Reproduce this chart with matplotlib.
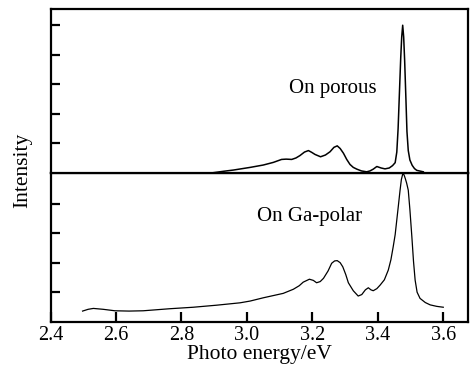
import matplotlib
matplotlib.use("Agg")
import matplotlib.pyplot as plt

plt.rcParams['font.family'] = ['Liberation Serif', 'DejaVu Serif']

# Top spectrum: "On porous"
porous_x = [2.897, 2.930, 2.959, 3.010, 3.050, 3.081, 3.106, 3.120, 3.137, 3.150,
            3.162, 3.176, 3.188, 3.198, 3.208, 3.225, 3.240, 3.254, 3.266, 3.276,
            3.285, 3.295, 3.305, 3.315, 3.325, 3.336, 3.350, 3.366, 3.376, 3.386,
            3.397, 3.410, 3.422, 3.435, 3.445, 3.453, 3.458, 3.462, 3.466, 3.470,
            3.473, 3.476, 3.479, 3.482, 3.486, 3.489, 3.493, 3.498, 3.505, 3.512,
            3.519, 3.539]
porous_y = [0.00, 0.05, 0.09, 0.18, 0.26, 0.35, 0.45, 0.46, 0.45, 0.50,
            0.58, 0.70, 0.75, 0.69, 0.62, 0.54, 0.60, 0.71, 0.86, 0.91,
            0.82, 0.66, 0.45, 0.28, 0.18, 0.12, 0.06, 0.03, 0.06, 0.12,
            0.21, 0.16, 0.13, 0.16, 0.24, 0.34, 0.70, 1.50, 2.70, 3.90,
            4.60, 5.00, 4.60, 3.80, 2.45, 1.40, 0.75, 0.43, 0.25, 0.14,
            0.08, 0.03]

# Bottom spectrum: "On Ga-polar"
gapolar_x = [2.498, 2.515, 2.531, 2.561, 2.597, 2.640, 2.683, 2.765, 2.836, 2.908,
             2.979, 3.010, 3.050, 3.111, 3.142, 3.160, 3.172, 3.191, 3.203, 3.213,
             3.224, 3.234, 3.248, 3.259, 3.268, 3.276, 3.285, 3.293, 3.302, 3.310,
             3.325, 3.340, 3.351, 3.362, 3.371, 3.379, 3.386, 3.397, 3.407, 3.420,
             3.432, 3.440, 3.447, 3.453, 3.458, 3.463, 3.468, 3.472, 3.476, 3.480,
             3.484, 3.488, 3.493, 3.498, 3.504, 3.509, 3.514, 3.520, 3.529, 3.545,
             3.560, 3.580, 3.600]
gapolar_y = [0.36, 0.42, 0.45, 0.42, 0.37, 0.36, 0.37, 0.44, 0.49, 0.56,
             0.64, 0.70, 0.81, 0.96, 1.10, 1.22, 1.34, 1.44, 1.40, 1.32,
             1.36, 1.47, 1.72, 1.98, 2.06, 2.07, 2.00, 1.86, 1.60, 1.32,
             1.05, 0.87, 0.92, 1.08, 1.15, 1.08, 1.05, 1.12, 1.24, 1.42,
             1.75, 2.10, 2.54, 2.95, 3.45, 3.95, 4.46, 4.82, 5.00, 4.98,
             4.85, 4.70, 4.46, 3.80, 2.88, 2.05, 1.41, 1.00, 0.79, 0.65,
             0.57, 0.52, 0.49]

x_ticks = [2.4, 2.6, 2.8, 3.0, 3.2, 3.4, 3.6]
x_ticklabels = ["2.4", "2.6", "2.8", "3.0", "3.2", "3.4", "3.6"]

W, H = 472, 367
fig = plt.figure(figsize=(W / 100, H / 100), dpi=100)

left = 50.5 / W
width = (467.5 - 50.5) / W
y_bot = (H - 321.7) / H
y_mid = (H - 172.7) / H
y_top = (H - 9.0) / H

ax_b = fig.add_axes([left, y_bot, width, y_mid - y_bot])
ax_t = fig.add_axes([left, y_mid, width, y_top - y_mid], sharex=ax_b)

ax_t.plot(porous_x, porous_y, color='black', lw=1.1)
ax_b.plot(gapolar_x, gapolar_y, color='black', lw=0.9)

ax_b.set_xlim(2.4, 3.674)
ax_t.set_ylim(0, 5.55)
ax_b.set_ylim(0, 5.05)

for ax in (ax_t, ax_b):
    for s in ax.spines.values():
        s.set_linewidth(1.6)
    ax.tick_params(axis='y', direction='in', length=6.8, width=1.6,
                   labelleft=False)

ax_t.set_yticks([1, 2, 3, 4, 5])
ax_b.set_yticks([1, 2, 3, 4])

ax_t.tick_params(axis='x', bottom=False, labelbottom=False)
ax_b.set_xticks(x_ticks)
ax_b.set_xticklabels(x_ticklabels)
ax_b.tick_params(axis='x', direction='in', length=7.2, width=1.6,
                 labelsize=14.5, pad=3)

ax_t.text(3.264, 2.87, "On porous", ha='center', va='center', fontsize=15)
ax_b.text(3.193, 3.56, "On Ga-polar", ha='center', va='center', fontsize=15)

ax_b.set_xlabel("Photo energy/eV", fontsize=15.5, labelpad=0)
fig.text(22.5 / W, 1 - 170.5 / H, "Intensity", rotation=90,
         ha='center', va='center', fontsize=15.5)

fig.savefig("out.png", dpi=100)
